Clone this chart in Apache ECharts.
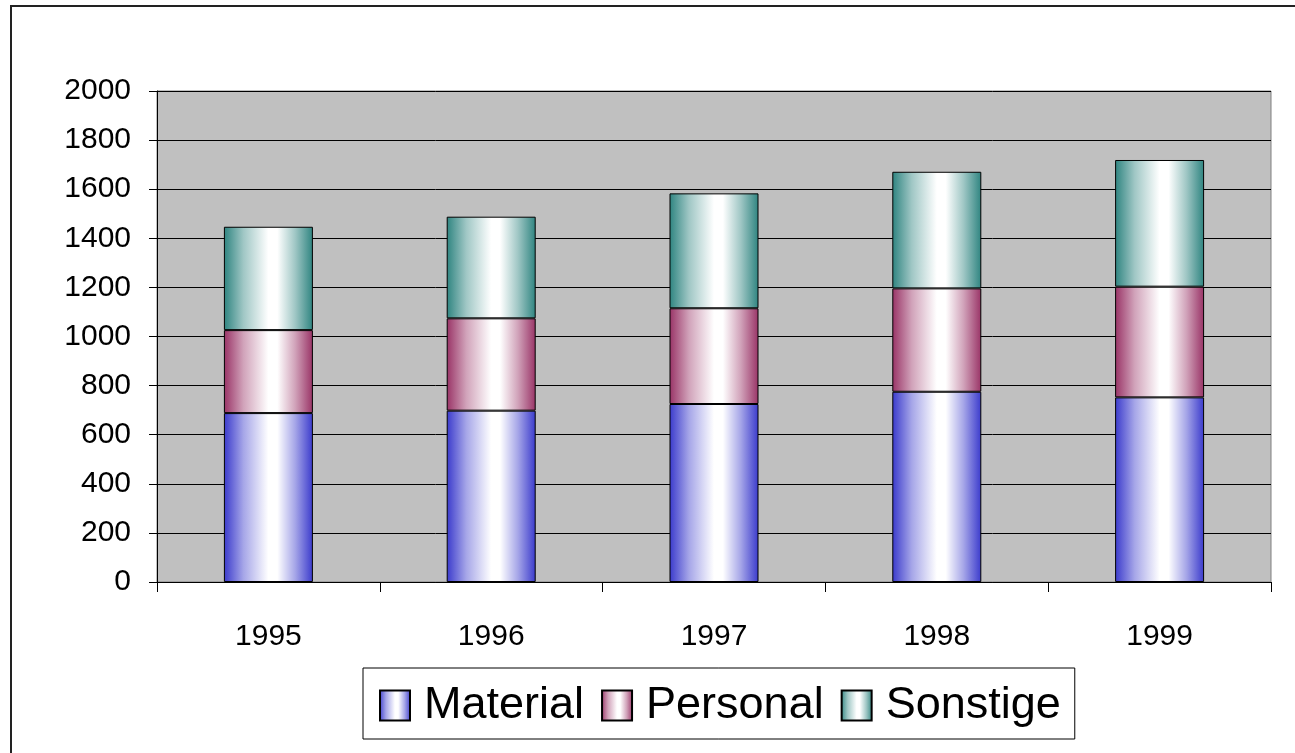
<!DOCTYPE html>
<html>
<head>
<meta charset="utf-8">
<script src="https://cdn.jsdelivr.net/npm/echarts@6/dist/echarts.min.js"></script>
<style>
  html, body { margin: 0; padding: 0; background: #fff; }
  #chart { width: 1295px; height: 753px; }
</style>
</head>
<body>
<div id="chart"></div>
<script>
const years = ['1995', '1996', '1997', '1998', '1999']
const material = [688, 698, 725, 775, 752]
const personal = [338, 376, 390, 421, 451]
const sonstige = [421, 414, 468, 475, 516]
const yTicks = { min: 0, max: 2000, interval: 200 }

const font = '"Liberation Sans", Arial, sans-serif'

// excel-like horizontal shading: dark edges, white in the middle
function shade(c) {
  return new echarts.graphic.LinearGradient(0, 0, 1, 0, [
    { offset: 0, color: c },
    { offset: 0.22, color: echarts.color.lift(c, 0.55) },
    { offset: 0.5, color: '#ffffff' },
    { offset: 0.6, color: '#ffffff' },
    { offset: 0.8, color: echarts.color.lift(c, 0.55) },
    { offset: 1, color: c }
  ])
}

function serie(name, data, color) {
  return {
    name: name,
    type: 'bar',
    stack: 'total',
    barWidth: 89,
    data: data,
    itemStyle: { color: shade(color), borderColor: '#000', borderWidth: 1 },
    emphasis: { disabled: true }
  }
}

const chart = echarts.init(document.getElementById('chart'), null, { renderer: 'canvas' })
chart.setOption({
  animation: false,
  textStyle: { fontFamily: font },
  graphic: [{
    type: 'rect',
    shape: { x: 11, y: 6, width: 1400, height: 900 },
    style: { fill: 'none', stroke: '#222', lineWidth: 2 },
    silent: true
  }],
  grid: {
    left: 157, right: 24, top: 91, bottom: 171,
    show: true,
    backgroundColor: '#c0c0c0',
    borderColor: '#808080',
    borderWidth: 1
  },
  legend: {
    left: 363,
    top: 668,
    itemWidth: 30,
    itemHeight: 30,
    itemGap: 17,
    padding: [15, 14, 11, 16],
    borderColor: '#000',
    borderWidth: 1,
    icon: 'rect',
    textStyle: { fontSize: 45, color: '#000', fontFamily: font, padding: [0, 0, 0, 9] },
    data: ['Material', 'Personal', 'Sonstige']
  },
  xAxis: {
    type: 'category',
    data: years,
    axisLine: { lineStyle: { color: '#000', width: 1 } },
    axisTick: { show: true, length: 10, lineStyle: { color: '#000' } },
    axisLabel: { fontSize: 30, color: '#000', margin: 40, fontFamily: font }
  },
  yAxis: {
    type: 'value',
    min: yTicks.min,
    max: yTicks.max,
    interval: yTicks.interval,
    axisLine: { show: true, lineStyle: { color: '#000', width: 1 } },
    axisTick: { show: true, length: 8, lineStyle: { color: '#000' } },
    axisLabel: { fontSize: 30, color: '#000', margin: 26, fontFamily: font, formatter: v => String(v) },
    splitLine: { show: true, lineStyle: { color: '#000', width: 1 } }
  },
  series: [
    serie('Material', material, '#3a3acc'),
    serie('Personal', personal, '#993366'),
    serie('Sonstige', sonstige, '#2e8480')
  ]
})
</script>
</body>
</html>
